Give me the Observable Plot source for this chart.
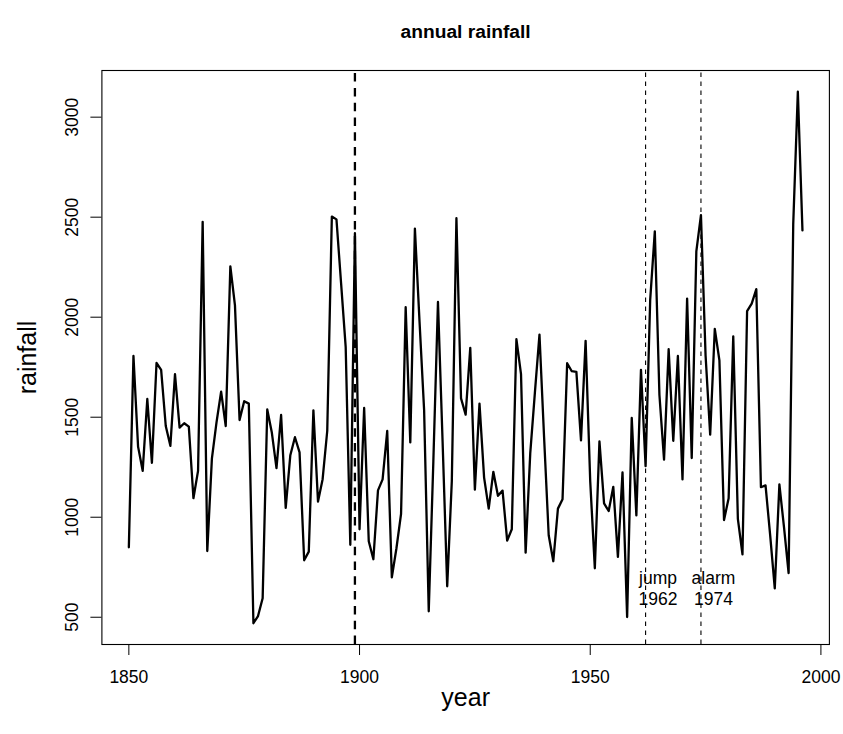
<!DOCTYPE html>
<html>
<head>
<meta charset="utf-8">
<script src="https://cdn.jsdelivr.net/npm/d3@7"></script>
<script src="https://cdn.jsdelivr.net/npm/@observablehq/plot@0.6"></script>
<style>
  html, body { margin: 0; padding: 0; background: #fff; }
</style>
</head>
<body>
<div id="chart"></div>
<script>
// ---- data ----
const firstYear = 1850;
const rainfall = [
  850, 1806, 1353, 1232, 1591, 1272, 1771, 1737, 1456, 1357,   // 1850-1859
  1715, 1448, 1470, 1453, 1095, 1232, 2477, 831, 1293, 1474,   // 1860-1869
  1628, 1456, 2254, 2059, 1486, 1580, 1568, 470, 506, 595,     // 1870-1879
  1539, 1422, 1245, 1511, 1047, 1310, 1400, 1324, 785, 828,    // 1880-1889
  1534, 1078, 1190, 1431, 2503, 2489, 2170, 1850, 862, 2420,   // 1890-1899
  940, 1546, 880, 790, 1134, 1189, 1431, 699, 845, 1017,       // 1900-1909
  2050, 1374, 2443, 1980, 1534, 530, 1280, 2076, 1380, 655,    // 1910-1919
  1180, 2495, 1594, 1513, 1847, 1138, 1568, 1198, 1043, 1227,  // 1920-1929
  1107, 1133, 883, 940, 1890, 1715, 823, 1319, 1620, 1913,     // 1930-1939
  1400, 910, 780, 1043, 1090, 1770, 1730, 1727, 1384, 1882,    // 1940-1949
  1180, 745, 1379, 1069, 1031, 1152, 802, 1224, 501, 1496,     // 1950-1959
  1009, 1737, 1255, 2088, 2429, 1611, 1288, 1840, 1382, 1806,  // 1960-1969
  1189, 2093, 1296, 2329, 2510, 1810, 1413, 1942, 1784, 986,   // 1970-1979
  1095, 1904, 992, 814, 2030, 2068, 2140, 1150, 1159, 910,     // 1980-1989
  644, 1164, 950, 721, 2464, 3127, 2434                        // 1990-1996
];
const changeYears = [1899];
const markerLabels = ["jump", "alarm"];
const markerYears = [1962, 1974];
const markerLabelValue = 646;
const xTicks = [1850, 1900, 1950, 2000];
const yTicks = [500, 1000, 1500, 2000, 2500, 3000];
const titleText = "annual rainfall";
const xLabel = "year";
const yLabel = "rainfall";

// ---- derived tables ----
const series = rainfall.map((v, i) => ({year: firstYear + i, rain: v}));
const markers = markerYears.map((y, i) => ({year: y, label: markerLabels[i]}));

// R-style 4% range extension
function rRange(ext) { const p = 0.04 * (ext[1] - ext[0]); return [ext[0] - p, ext[1] + p]; }
const xDom = rRange(d3.extent(series, d => d.year));
const yDom = rRange(d3.extent(series, d => d.rain));

const font = "'Liberation Sans', Arial, Helvetica, sans-serif";

const chart = Plot.plot({
  width: 843,
  height: 734,
  marginLeft: 101.4,
  marginRight: 14.1,
  marginTop: 70,
  marginBottom: 90,
  style: {fontFamily: font, fontSize: "17.5px", background: "#fff", color: "#000"},
  x: {domain: xDom, label: null},
  y: {domain: yDom, label: null},
  marks: [
    Plot.frame({stroke: "#000", strokeWidth: 1.1}),
    Plot.axisX({ticks: xTicks, tickSize: 11, tickPadding: 15, tickFormat: d => String(d), label: null, fontSize: 17.5, stroke: "#000"}),
    Plot.axisY({ticks: yTicks, tickSize: 11, tickRotate: -90, tickPadding: 13, tickFormat: d => String(d), label: null, fontSize: 17.5, stroke: "#000"}),
    Plot.ruleX(changeYears, {x: d => d, y1: yDom[0], y2: yDom[1], stroke: "#000", strokeWidth: 2.3, strokeDasharray: "8.5,6.3"}),
    Plot.ruleX(markers, {x: "year", y1: yDom[0], y2: yDom[1], stroke: "#000", strokeWidth: 1.1, strokeDasharray: "4.6,4.4"}),
    Plot.line(series, {x: "year", y: "rain", stroke: "#000", strokeWidth: 2.3, strokeLinejoin: "round", strokeLinecap: "round"}),
    Plot.text(markers, {x: "year", y: () => markerLabelValue, text: d => d.label + "\n" + d.year, dx: 12.5, textAnchor: "middle", lineAnchor: "middle", lineHeight: 1.2, fontSize: 17.5, fill: "#000"}),
    Plot.text([titleText], {frameAnchor: "top", dy: -39, fontWeight: "bold", fontSize: 19.2, lineAnchor: "middle", fill: "#000"}),
    Plot.text([xLabel], {frameAnchor: "bottom", dy: 53, fontSize: 25, lineAnchor: "middle", fill: "#000"}),
    Plot.text([yLabel], {frameAnchor: "left", dx: -74, rotate: -90, fontSize: 25, lineAnchor: "middle", textAnchor: "middle", fill: "#000"})
  ]
});
document.getElementById("chart").appendChild(chart);
</script>
</body>
</html>
